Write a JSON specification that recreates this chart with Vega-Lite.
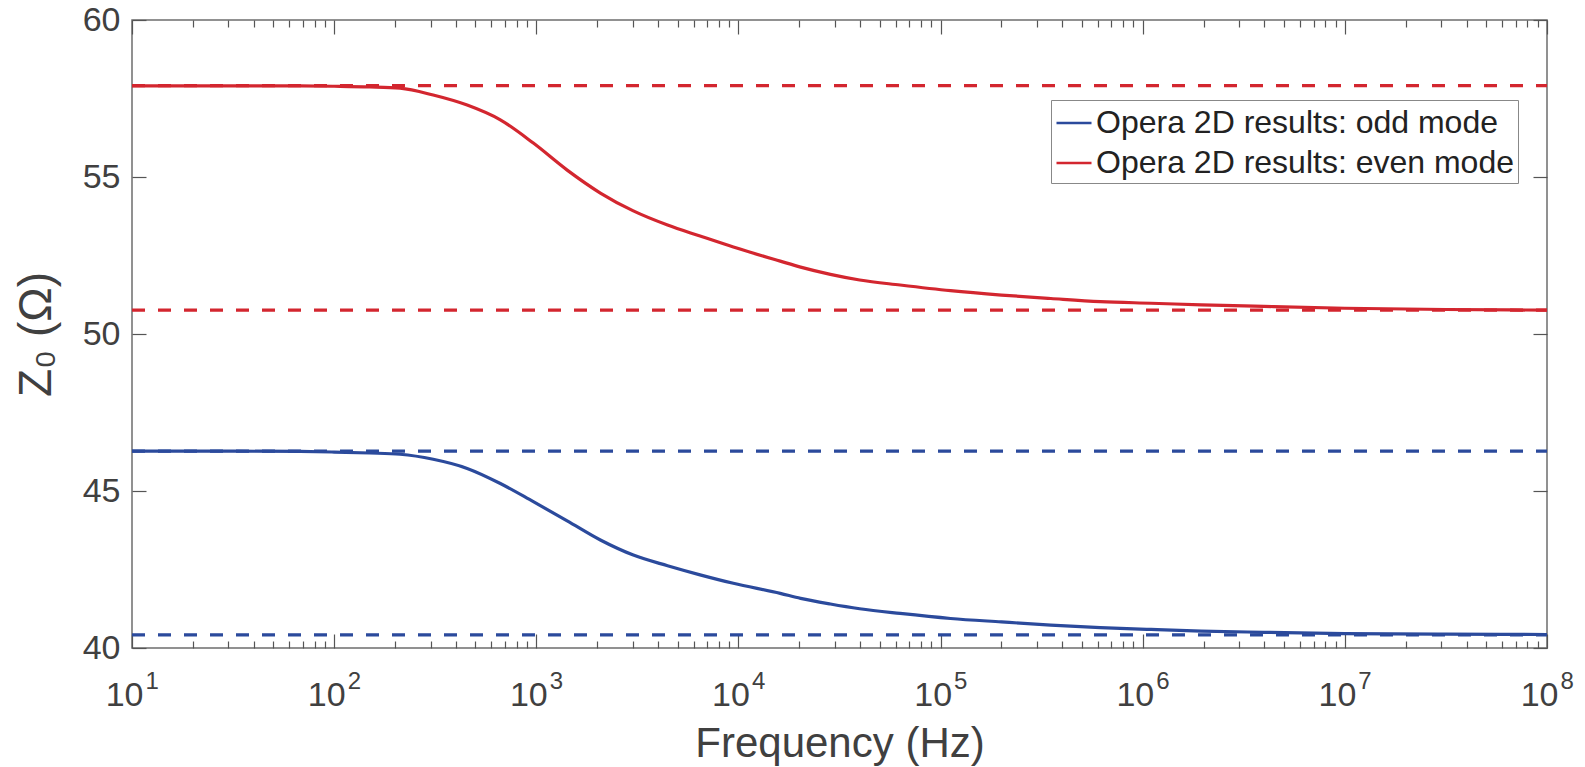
{
  "$schema": "https://vega.github.io/schema/vega-lite/v6.json",
  "width": 1415,
  "height": 628,
  "autosize": "none",
  "padding": {"left": 132, "top": 20, "right": 38, "bottom": 119},
  "background": "white",
  "config": {
    "font": "Liberation Sans",
    "view": {"stroke": "#6e6e6e", "strokeWidth": 1.5},
    "axis": {
      "grid": false,
      "domain": false,
      "tickColor": "#555555",
      "tickWidth": 1.2,
      "labelFont": "Liberation Sans",
      "labelFontSize": 34,
      "labelColor": "#404040",
      "titleFont": "Liberation Sans",
      "titleFontSize": 42,
      "titleFontWeight": "normal",
      "titleColor": "#404040",
      "labelOverlap": false,
      "labelFlush": false
    }
  },
  "datasets": {
    "curves": [
      {"f": 10, "z": 57.9, "mode": "Opera 2D results: even mode"},
      {"f": 32, "z": 57.9, "mode": "Opera 2D results: even mode"},
      {"f": 68, "z": 57.9, "mode": "Opera 2D results: even mode"},
      {"f": 100, "z": 57.89, "mode": "Opera 2D results: even mode"},
      {"f": 150, "z": 57.87, "mode": "Opera 2D results: even mode"},
      {"f": 212, "z": 57.83, "mode": "Opera 2D results: even mode"},
      {"f": 309, "z": 57.61, "mode": "Opera 2D results: even mode"},
      {"f": 455, "z": 57.29, "mode": "Opera 2D results: even mode"},
      {"f": 664, "z": 56.82, "mode": "Opera 2D results: even mode"},
      {"f": 967, "z": 56.08, "mode": "Opera 2D results: even mode"},
      {"f": 1422, "z": 55.22, "mode": "Opera 2D results: even mode"},
      {"f": 2075, "z": 54.49, "mode": "Opera 2D results: even mode"},
      {"f": 3020, "z": 53.92, "mode": "Opera 2D results: even mode"},
      {"f": 4460, "z": 53.47, "mode": "Opera 2D results: even mode"},
      {"f": 6460, "z": 53.12, "mode": "Opera 2D results: even mode"},
      {"f": 9440, "z": 52.77, "mode": "Opera 2D results: even mode"},
      {"f": 16100, "z": 52.32, "mode": "Opera 2D results: even mode"},
      {"f": 20300, "z": 52.13, "mode": "Opera 2D results: even mode"},
      {"f": 28500, "z": 51.9, "mode": "Opera 2D results: even mode"},
      {"f": 39800, "z": 51.72, "mode": "Opera 2D results: even mode"},
      {"f": 63100, "z": 51.56, "mode": "Opera 2D results: even mode"},
      {"f": 112000, "z": 51.38, "mode": "Opera 2D results: even mode"},
      {"f": 200000, "z": 51.24, "mode": "Opera 2D results: even mode"},
      {"f": 351000, "z": 51.13, "mode": "Opera 2D results: even mode"},
      {"f": 617000, "z": 51.03, "mode": "Opera 2D results: even mode"},
      {"f": 1100000, "z": 50.98, "mode": "Opera 2D results: even mode"},
      {"f": 1950000, "z": 50.93, "mode": "Opera 2D results: even mode"},
      {"f": 3980000, "z": 50.88, "mode": "Opera 2D results: even mode"},
      {"f": 10000000, "z": 50.82, "mode": "Opera 2D results: even mode"},
      {"f": 31600000, "z": 50.78, "mode": "Opera 2D results: even mode"},
      {"f": 100000000, "z": 50.76, "mode": "Opera 2D results: even mode"},
      {"f": 10, "z": 46.27, "mode": "Opera 2D results: odd mode"},
      {"f": 32, "z": 46.27, "mode": "Opera 2D results: odd mode"},
      {"f": 68, "z": 46.26, "mode": "Opera 2D results: odd mode"},
      {"f": 100, "z": 46.24, "mode": "Opera 2D results: odd mode"},
      {"f": 150, "z": 46.21, "mode": "Opera 2D results: odd mode"},
      {"f": 212, "z": 46.17, "mode": "Opera 2D results: odd mode"},
      {"f": 309, "z": 46.01, "mode": "Opera 2D results: odd mode"},
      {"f": 455, "z": 45.72, "mode": "Opera 2D results: odd mode"},
      {"f": 664, "z": 45.24, "mode": "Opera 2D results: odd mode"},
      {"f": 967, "z": 44.66, "mode": "Opera 2D results: odd mode"},
      {"f": 1422, "z": 44.05, "mode": "Opera 2D results: odd mode"},
      {"f": 2075, "z": 43.44, "mode": "Opera 2D results: odd mode"},
      {"f": 3020, "z": 42.96, "mode": "Opera 2D results: odd mode"},
      {"f": 4460, "z": 42.62, "mode": "Opera 2D results: odd mode"},
      {"f": 6460, "z": 42.33, "mode": "Opera 2D results: odd mode"},
      {"f": 9440, "z": 42.06, "mode": "Opera 2D results: odd mode"},
      {"f": 16100, "z": 41.74, "mode": "Opera 2D results: odd mode"},
      {"f": 20300, "z": 41.58, "mode": "Opera 2D results: odd mode"},
      {"f": 28500, "z": 41.4, "mode": "Opera 2D results: odd mode"},
      {"f": 39800, "z": 41.25, "mode": "Opera 2D results: odd mode"},
      {"f": 63100, "z": 41.1, "mode": "Opera 2D results: odd mode"},
      {"f": 112000, "z": 40.94, "mode": "Opera 2D results: odd mode"},
      {"f": 200000, "z": 40.83, "mode": "Opera 2D results: odd mode"},
      {"f": 351000, "z": 40.73, "mode": "Opera 2D results: odd mode"},
      {"f": 617000, "z": 40.65, "mode": "Opera 2D results: odd mode"},
      {"f": 1100000, "z": 40.59, "mode": "Opera 2D results: odd mode"},
      {"f": 1950000, "z": 40.54, "mode": "Opera 2D results: odd mode"},
      {"f": 3980000, "z": 40.5, "mode": "Opera 2D results: odd mode"},
      {"f": 10000000, "z": 40.46, "mode": "Opera 2D results: odd mode"},
      {"f": 31600000, "z": 40.44, "mode": "Opera 2D results: odd mode"},
      {"f": 100000000, "z": 40.43, "mode": "Opera 2D results: odd mode"}
    ],
    "refs": [
      {"f": 10, "z": 57.91, "mode": "Opera 2D results: even mode", "level": "even low-frequency"},
      {"f": 100000000, "z": 57.91, "mode": "Opera 2D results: even mode", "level": "even low-frequency"},
      {"f": 10, "z": 50.76, "mode": "Opera 2D results: even mode", "level": "even high-frequency"},
      {"f": 100000000, "z": 50.76, "mode": "Opera 2D results: even mode", "level": "even high-frequency"},
      {"f": 10, "z": 46.27, "mode": "Opera 2D results: odd mode", "level": "odd low-frequency"},
      {"f": 100000000, "z": 46.27, "mode": "Opera 2D results: odd mode", "level": "odd low-frequency"},
      {"f": 10, "z": 40.42, "mode": "Opera 2D results: odd mode", "level": "odd high-frequency"},
      {"f": 100000000, "z": 40.42, "mode": "Opera 2D results: odd mode", "level": "odd high-frequency"}
    ]
  },
  "layer": [
    {
      "data": {"name": "refs"},
      "mark": {"type": "line", "strokeWidth": 3.2, "strokeDash": [13, 13]},
      "encoding": {
        "x": {
          "field": "f", "type": "quantitative",
          "scale": {"type": "log", "domain": [10, 100000000], "nice": false},
          "axis": {
            "orient": "top", "title": null, "labels": false,
            "values": [10,20,30,40,50,60,70,80,90,100,200,300,400,500,600,700,800,900,1000,2000,3000,4000,5000,6000,7000,8000,9000,10000,20000,30000,40000,50000,60000,70000,80000,90000,100000,200000,300000,400000,500000,600000,700000,800000,900000,1000000,2000000,3000000,4000000,5000000,6000000,7000000,8000000,9000000,10000000,20000000,30000000,40000000,50000000,60000000,70000000,80000000,90000000,100000000],
            "tickSize": {"condition": {"test": "abs(log(datum.value)/LN10 - round(log(datum.value)/LN10)) < 0.001", "value": -14}, "value": -7}
          }
        },
        "y": {
          "field": "z", "type": "quantitative",
          "scale": {"domain": [40, 60], "nice": false, "zero": false},
          "axis": {"orient": "right", "title": null, "labels": false, "values": [40, 45, 50, 55, 60], "tickSize": -14}
        },
        "color": {"field": "mode", "type": "nominal"},
        "detail": {"field": "level", "type": "nominal"}
      }
    },
    {
      "data": {"name": "refs"},
      "mark": {"type": "line", "opacity": 0},
      "encoding": {
        "x": {
          "field": "f", "type": "quantitative",
          "scale": {"type": "log", "domain": [10, 100000000], "nice": false},
          "axis": {
            "orient": "bottom", "title": null, "ticks": false,
            "values": [10, 100, 1000, 10000, 100000, 1000000, 10000000, 100000000],
            "labelExpr": "format(round(log(datum.value)/LN10), 'd')",
            "labelFontSize": 24,
            "labelAlign": "left",
            "labelBaseline": "alphabetic",
            "labelOffset": 13,
            "labelPadding": 40
          }
        },
        "y": {"field": "z", "type": "quantitative", "axis": null},
        "detail": {"field": "level", "type": "nominal"}
      }
    },
    {
      "data": {"name": "curves"},
      "mark": {"type": "line", "strokeWidth": 3.2, "interpolate": "monotone"},
      "encoding": {
        "x": {
          "field": "f", "type": "quantitative",
          "scale": {"type": "log", "domain": [10, 100000000], "nice": false},
          "axis": {
            "orient": "bottom",
            "title": "Frequency (Hz)",
            "titleBaseline": "alphabetic",
            "titleY": 108,
            "labelBaseline": "alphabetic",
            "labelAlign": "right",
            "labelOffset": 11,
            "labelPadding": 71,
            "values": [10,20,30,40,50,60,70,80,90,100,200,300,400,500,600,700,800,900,1000,2000,3000,4000,5000,6000,7000,8000,9000,10000,20000,30000,40000,50000,60000,70000,80000,90000,100000,200000,300000,400000,500000,600000,700000,800000,900000,1000000,2000000,3000000,4000000,5000000,6000000,7000000,8000000,9000000,10000000,20000000,30000000,40000000,50000000,60000000,70000000,80000000,90000000,100000000],
            "labelExpr": "abs(log(datum.value)/LN10 - round(log(datum.value)/LN10)) < 0.001 ? '10' : ''",
            "tickSize": {"condition": {"test": "abs(log(datum.value)/LN10 - round(log(datum.value)/LN10)) < 0.001", "value": -14}, "value": -7}
          }
        },
        "y": {
          "field": "z", "type": "quantitative",
          "scale": {"domain": [40, 60], "nice": false, "zero": false},
          "axis": {
            "orient": "left",
            "title": "Z₀ (Ω)",
            "titleFontSize": 46,
            "titleBaseline": "alphabetic",
            "titleX": -82,
            "values": [40, 45, 50, 55, 60],
            "tickSize": -14,
            "labelPadding": 26,
            "labelBaseline": "middle"
          }
        },
        "color": {
          "field": "mode", "type": "nominal",
          "scale": {"domain": ["Opera 2D results: odd mode", "Opera 2D results: even mode"], "range": ["#2b4a9c", "#d3262f"]},
          "legend": {
            "orient": "none", "legendX": 919, "legendY": 80,
            "title": null,
            "symbolType": "stroke", "symbolSize": 1225, "symbolStrokeWidth": 2.5,
            "labelFont": "Liberation Sans", "labelFontSize": 32, "labelColor": "#222222",
            "labelLimit": 700, "labelOffset": 3,
            "strokeColor": "#888888", "fillColor": "white",
            "padding": 4, "rowPadding": 5
          }
        }
      }
    }
  ],
  "resolve": {"axis": {"x": "independent", "y": "independent"}}
}
